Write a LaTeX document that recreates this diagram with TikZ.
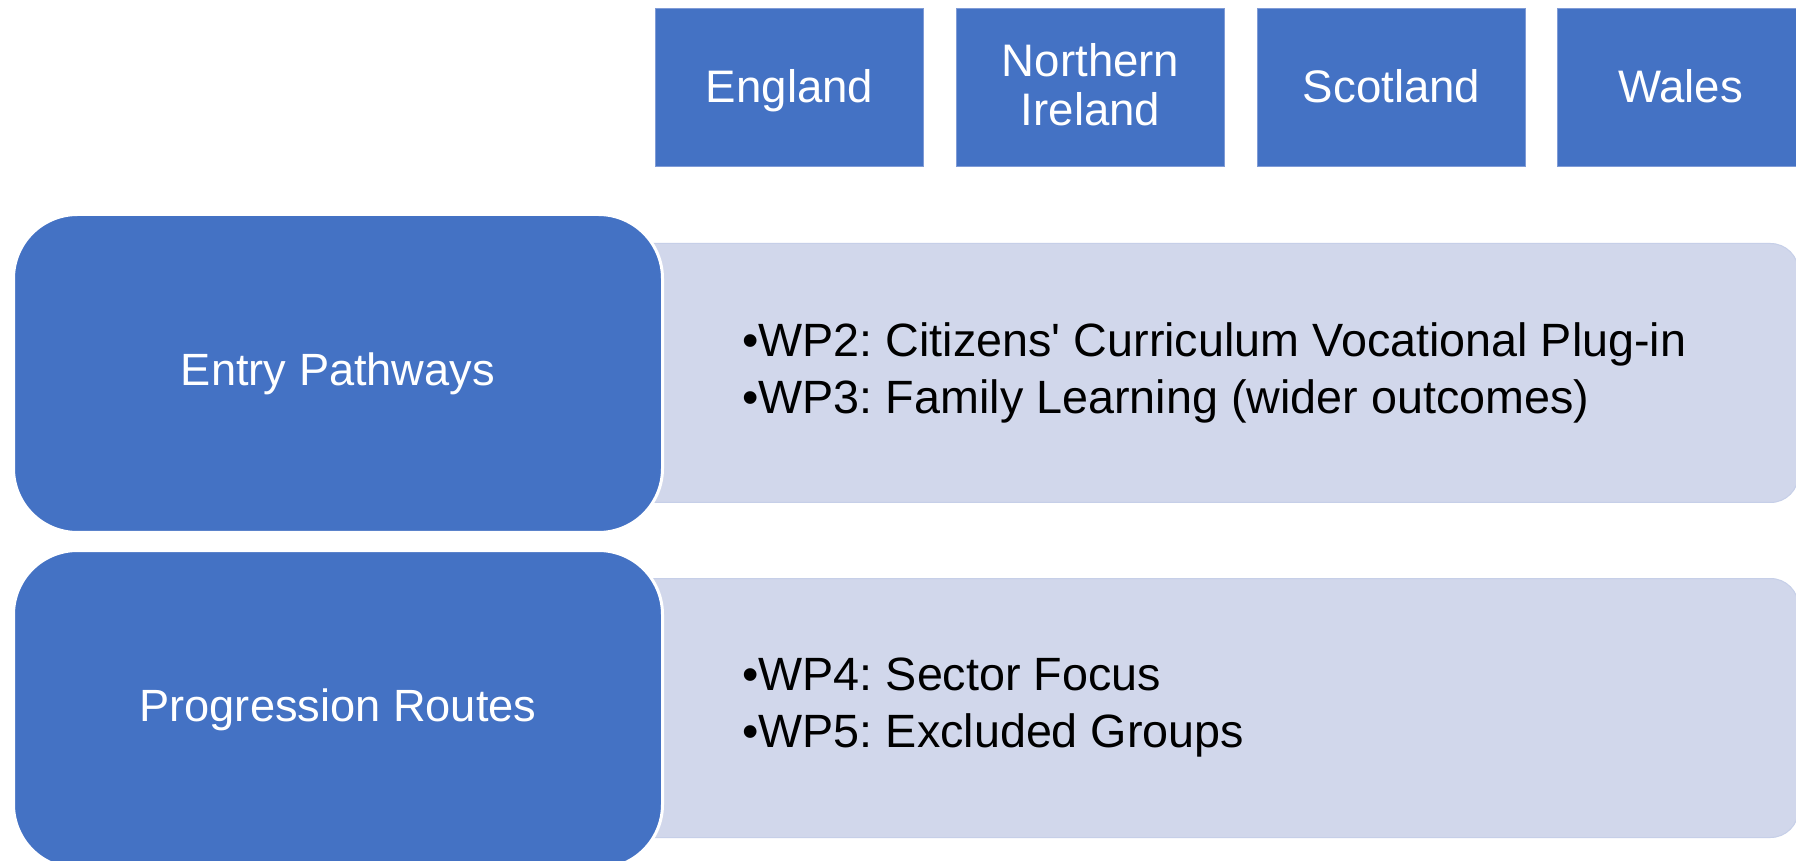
\documentclass[tikz,border=0pt]{standalone}
\usepackage{fontspec}
\setmainfont{Liberation Sans}
\definecolor{accent}{HTML}{4472C4}
\definecolor{pale}{HTML}{D1D7EB}
\definecolor{edge}{HTML}{7F9BD6}
\frenchspacing
\begin{document}
\begin{tikzpicture}[x=0.5pt,y=-0.5pt,
  country/.style={fill=accent, draw=edge, line width=0.6pt, text=white,
    font=\fontsize{22.8}{24.5}\selectfont, align=center,
    minimum width=134pt, minimum height=79pt, inner sep=0pt, anchor=north west},
  head/.style={fill=accent, draw=white, line width=1.5pt, rounded corners=32pt, text=white,
    font=\fontsize{22.6}{26}\selectfont, align=center,
    minimum width=324.5pt, minimum height=159pt, inner sep=0pt, anchor=north west},
  panel/.style={fill=pale, draw=pale!92!accent, line width=0.5pt, rounded corners=14pt,
    minimum width=599pt, minimum height=129.5pt, inner sep=0pt, anchor=north west},
  bullets/.style={text=black, font=\fontsize{23.35}{28.5}\selectfont\frenchspacing, align=left,
    inner sep=0pt, anchor=west}]
\useasboundingbox (0,0) rectangle (1796,861);
\clip (0,0) rectangle (1796,861);
\fill[white] (0,0) rectangle (1796,861);
% country boxes
\node[country, text depth=2pt] (england) at (655,8) {England};
\node[country, text depth=3.4pt] (nireland) at (956,8) {Northern\\Ireland};
\node[country, text depth=2pt] (scotland) at (1257,8) {Scotland};
\node[country, minimum width=123pt, text depth=2pt] (wales) at (1557,8) {Wales};
% pale panels
\node[panel] (panelA) at (600,243) {};
\node[panel] (panelB) at (600,578) {};
% headers
\node[head] (entry) at (12,213) {Entry Pathways};
\node[head] (prog) at (12,549) {Progression Routes};
% bullet texts
\node[bullets] (textA) at (742,373) {•WP2: Citizens\textquotesingle{} Curriculum Vocational Plug-in\\•WP3: Family Learning (wider outcomes)};
\node[bullets] (textB) at (742,708) {•WP4: Sector Focus\\•WP5: Excluded Groups};
\end{tikzpicture}
\end{document}
